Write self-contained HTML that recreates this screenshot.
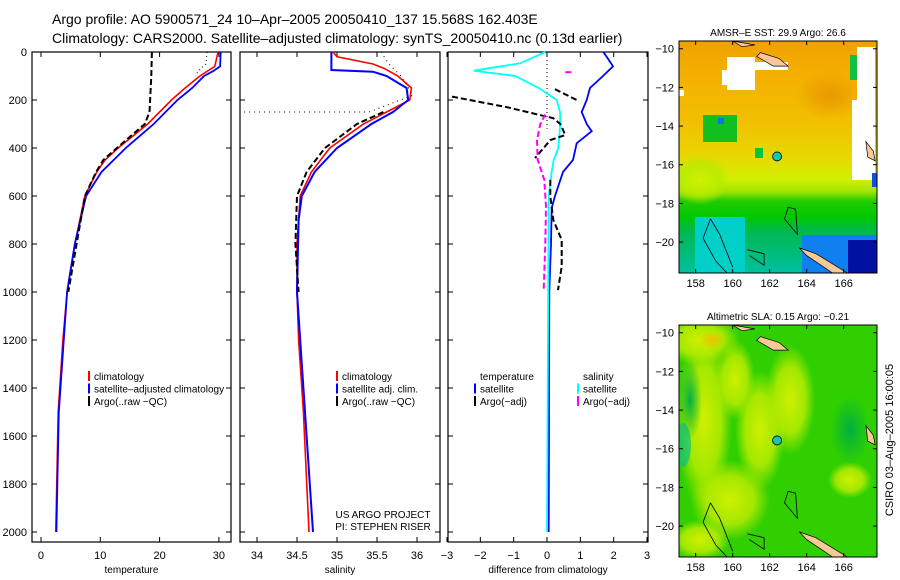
<!DOCTYPE html>
<html><head><meta charset="utf-8">
<style>
body{margin:0;background:#fff;}
svg{display:block;font-family:"Liberation Sans",sans-serif;}
</style></head>
<body>
<svg id="c" width="900" height="580" viewBox="0 0 900 580">
<text x="52" y="24" font-size="14">Argo profile: AO 5900571_24 10–Apr–2005 20050410_137 15.568S 162.403E</text>
<text x="52" y="43" font-size="14">Climatology: CARS2000. Satellite–adjusted climatology: synTS_20050410.nc (0.13d earlier)</text>
<defs>
<linearGradient id="sstg" x1="0" y1="0" x2="0" y2="1">
<stop offset="0" stop-color="#f0a000"/><stop offset="0.15" stop-color="#f4b000"/><stop offset="0.35" stop-color="#f2c000"/><stop offset="0.5" stop-color="#e8d800"/><stop offset="0.6" stop-color="#d0f000"/><stop offset="0.65" stop-color="#a0e400"/><stop offset="0.69" stop-color="#20cc00"/><stop offset="0.76" stop-color="#00c800"/><stop offset="0.82" stop-color="#00b850"/><stop offset="1" stop-color="#00c0a0"/>
</linearGradient>
<radialGradient id="sy1" cx="0.5" cy="0.5" r="0.5"><stop offset="0" stop-color="#d0f000"/><stop offset="0.6" stop-color="#b8ec00" stop-opacity="0.85"/><stop offset="1" stop-color="#b0e800" stop-opacity="0"/></radialGradient>
<radialGradient id="sy2" cx="0.5" cy="0.5" r="0.5"><stop offset="0" stop-color="#f0c000"/><stop offset="1" stop-color="#f0c000" stop-opacity="0"/></radialGradient>
<radialGradient id="sy3" cx="0.5" cy="0.5" r="0.5"><stop offset="0" stop-color="#e89800"/><stop offset="1" stop-color="#e89800" stop-opacity="0"/></radialGradient>
<radialGradient id="sg" cx="0.5" cy="0.5" r="0.5"><stop offset="0" stop-color="#00b040"/><stop offset="1" stop-color="#00b040" stop-opacity="0"/></radialGradient>
<clipPath id="clip-sst"><rect x="679" y="41" width="198" height="232"/></clipPath>
<clipPath id="clip-sla"><rect x="679" y="325" width="198" height="232"/></clipPath>
</defs>
<g id="maps"></g>
<g id="panels"></g>
<text transform="translate(893,440) rotate(-90)" font-size="11" text-anchor="middle">CSIRO 03–Aug–2005 16:00:05</text>
</svg>
<script>
// ---- data (depth m, value) ----
const tempClim=[[0,29.85],[60,29.3],[100,26.8],[150,24.3],[200,22],[300,18],[400,13],[450,10.8],[500,9.4],[600,7.4],[800,5.7],[1000,4.4],[1200,3.7],[1500,2.9],[2000,2.5]];
const tempSat=[[0,30.3],[60,30.2],[80,29],[100,27.5],[150,25.5],[200,23],[300,19],[400,14.3],[500,10.2],[600,7.6],[800,5.7],[1000,4.4],[1500,3.0],[2000,2.6]];
const tempArgo=[[0,18.7],[100,18.6],[250,18.3],[300,17.5],[400,12.8],[450,10.5],[500,9.3],[600,7.4],[800,6.0],[1000,4.6]];
const tempRaw=[[0,28.0],[50,27.8],[80,26.5],[100,26]];
const salClim=[[0,34.95],[20,35.0],[50,35.45],[70,35.6],[100,35.76],[150,35.93],[200,35.91],[250,35.62],[300,35.33],[400,34.91],[500,34.68],[600,34.54],[800,34.5],[1000,34.5],[1200,34.52],[1500,34.58],[2000,34.65]];
const salSat=[[0,34.93],[75,34.93],[82,35.45],[100,35.62],[150,35.87],[200,35.89],[250,35.7],[300,35.43],[400,35.0],[500,34.72],[600,34.56],[700,34.52],[1000,34.5],[1500,34.6],[2000,34.7]];
const salArgo=[[250,35.58],[300,35.25],[400,34.85],[500,34.62],[600,34.5],[800,34.48],[1000,34.52]];
const salRaw=[[0,35.55],[50,35.65],[100,35.8],[180,35.95],[250,35.4],[250,33.8]];
const dTempSat=[[0,1.69],[20,1.79],[60,1.98],[100,1.68],[150,1.29],[200,1.19],[250,1.04],[300,1.19],[330,1.34],[380,0.89],[450,0.78],[500,0.48],[600,0.24],[650,0.14],[800,0.12],[1000,0.07],[2000,0.05]];
const dSalSat=[[0,-0.05],[47,-0.8],[78,-2.2],[100,-0.95],[150,-0.25],[200,0.29],[250,0.39],[300,0.4],[400,0.34],[450,0.2],[500,0.14],[600,0.05],[2000,0.0]];
const dTempArgoA=[[155,0.24],[200,0.89]];
const dTempArgoB=[[186,-2.85],[230,-1.2],[276,0.19],[300,0.4],[346,0.55],[367,0.1],[442,-0.36]];
const dTempArgoC=[[533,0.1],[600,0.1],[700,0.19],[783,0.44],[894,0.44],[992,0.33]];
const dSalArgoA=[[84,0.55],[84,0.75]];
const dSalArgoB=[[260,-0.05],[300,-0.2],[367,-0.3],[450,-0.28],[533,-0.08],[644,-0.03],[800,-0.05],[990,-0.1]];
const depthTicks=[0,200,400,600,800,1000,1200,1400,1600,1800,2000];
const tempTicks=[0,10,20,30];
const salTicks=[34,34.5,35,35.5,36];
const diffTicks=[-3,-2,-1,0,1,2,3];
const lonTicks=[158,160,162,164,166];
const latTicks=[-10,-12,-14,-16,-18,-20];

const NS="http://www.w3.org/2000/svg";
function mk(tag,attrs,parent){const e=document.createElementNS(NS,tag);for(const k in attrs)e.setAttribute(k,attrs[k]);parent.appendChild(e);return e;}
const P=document.getElementById('panels');
const yD=d=>52+d*0.24;
const panels=[
 {name:'temperature',x0:32,x1:231,v0:-1.5175,v1:32.04,ticks:tempTicks,label:'temperature'},
 {name:'salinity',x0:240,x1:440,v0:33.7875,v1:36.2875,ticks:salTicks,label:'salinity'},
 {name:'difference',x0:448,x1:648,v0:-2.97,v1:3.03,ticks:diffTicks,label:'difference from climatology'}
];
panels.forEach(p=>{p.sx=v=>p.x0+(v-p.v0)/(p.v1-p.v0)*(p.x1-p.x0);});
function line(p,data,color,w,dash,name){
 const d=data.map((q,i)=>(i?'L':'M')+p.sx(q[1]).toFixed(1)+' '+yD(q[0]).toFixed(1)).join(' ');
 const e=mk('path',{d:d,fill:'none',stroke:color,'stroke-width':w},P);
 if(dash)e.setAttribute('stroke-dasharray',dash);
 
 
}
panels.forEach((p,i)=>{
 const r=mk('rect',{x:p.x0,y:52,width:p.x1-p.x0,height:490,fill:'#fff',stroke:'#000','stroke-width':1.2},P);
 
 
 p.ticks.forEach(t=>{
  const x=p.sx(t);
  mk('line',{x1:x,y1:52,x2:x,y2:57,stroke:'#000'},P);
  mk('line',{x1:x,y1:542,x2:x,y2:537,stroke:'#000'},P);
  const tx=mk('text',{x:x,y:559,'font-size':11,'text-anchor':'middle'},P);
  tx.textContent=t<0?'−'+(-t):String(t);
  
  
 });
 depthTicks.forEach(dv=>{
  const y=yD(dv);
  mk('line',{x1:p.x0,y1:y,x2:p.x0+5,y2:y,stroke:'#000'},P);
  mk('line',{x1:p.x1,y1:y,x2:p.x1-5,y2:y,stroke:'#000'},P);
  if(i===0){const t=mk('text',{x:27,y:y+4,'font-size':11,'text-anchor':'end'},P);t.textContent=dv;
   
   }
 });
 const lb=mk('text',{x:(p.x0+p.x1)/2,y:573,'font-size':10,'text-anchor':'middle'},P);
 lb.textContent=p.label;
 
 
});
const [pT,pS,pD]=panels;
line(pT,tempClim,'#f00',1.6,null,'temp-climatology-line');
line(pT,tempSat,'#00f',1.8,null,'temp-satellite-line');
line(pT,tempArgo,'#000',2,'6 3','temp-argo-line');
line(pT,tempRaw,'#000',1,'1 3','temp-argo-raw-line');
line(pS,salClim,'#f00',1.6,null,'sal-climatology-line');
line(pS,salSat,'#00f',2,null,'sal-satellite-line');
line(pS,salArgo,'#000',2,'6 3','sal-argo-line');
line(pS,salRaw,'#000',1,'1 4','sal-argo-raw-line');
line(pD,[[0,0],[320,0]],'#000',1,'1 3','zero-line');
line(pD,dTempSat,'#00f',1.8,null,'diff-temp-satellite-line');
line(pD,dSalSat,'#0ff',1.8,null,'diff-sal-satellite-line');
line(pD,dTempArgoA,'#000',2,'6 3','diff-temp-argo-line-a');
line(pD,dTempArgoB,'#000',2,'6 3','diff-temp-argo-line-b');
line(pD,dTempArgoC,'#000',2,'6 3','diff-temp-argo-line-c');
line(pD,dSalArgoA,'#f0f',2,'6 3','diff-sal-argo-line-a');
line(pD,dSalArgoB,'#f0f',2,'6 3','diff-sal-argo-line-b');

function legend(x,y,items,name){
 items.forEach((it,k)=>{
  const yy=y+k*12.5;
  if(it[1])mk('rect',{x:x,y:yy-9,width:2,height:10,fill:it[1]},P);
  const t=mk('text',{x:x+6,y:yy,'font-size':10},P);t.textContent=it[0];
  
  
 });
}
legend(88,380,[['climatology','#f00'],['satellite–adjusted climatology','#00f'],['Argo(..raw −QC)','#000']],'temp-legend');
legend(336,380,[['climatology','#f00'],['satellite adj. clim.','#00f'],['Argo(..raw −QC)','#000']],'sal-legend');
legend(474,380,[['temperature',null],['satellite','#00f'],['Argo(−adj)','#000']],'diff-temp-legend');
legend(577,380,[['salinity',null],['satellite','#0ff'],['Argo(−adj)','#f0f']],'diff-sal-legend');
const c1=mk('text',{x:383,y:518,'font-size':10,'text-anchor':'middle'},P);c1.textContent='US ARGO PROJECT';


const c2=mk('text',{x:383,y:530,'font-size':10,'text-anchor':'middle'},P);c2.textContent='PI: STEPHEN RISER';



// ---- maps ----
const M=document.getElementById('maps');
function R(g,x,y,w,h,f){return mk('rect',{x:x,y:y,width:w,height:h,fill:f},g);}
function map(top,bot,title,kind){
 const x0=679,x1=877;
 const lonX=l=>x0+(l-157.1)/(167.8-157.1)*(x1-x0);
 const latY=l=>top+(-9.6-l)/(21.6-9.6)*(bot-top);
 const g=mk('g',{},M);
 
 
 const cg=mk('g',{'clip-path':'url(#clip-'+kind+')'},g);
 if(kind==='sst'){
  R(cg,x0,top,x1-x0,bot-top,'url(#sstg)');
  mk('ellipse',{cx:830,cy:95,rx:35,ry:25,fill:'url(#sy3)'},cg);
  mk('ellipse',{cx:700,cy:180,rx:30,ry:25,fill:'url(#sy1)'},cg);
  R(cg,695,217,50,56,'#00d0c8');
  R(cg,802,235,75,38,'#1080f0');
  R(cg,848,240,29,33,'#0010a0');
  R(cg,703,115,34,27,'#10c020');
  R(cg,718,118,6,6,'#1070f0');
  R(cg,755,148,8,10,'#10c040');
  R(cg,850,55,25,25,'#10c040');
  R(cg,727,57,28,33,'#fff');
  R(cg,755,62,33,8,'#fff');
  R(cg,722,70,8,15,'#fff');
  R(cg,857,47,18,60,'#fff');
  R(cg,852,100,23,80,'#fff');
  R(cg,679,90,5,6,'#fff');
  R(cg,872,173,5,14,'#1050e0');
 } else {
  R(cg,x0,top,x1-x0,bot-top,'#30d000');
  [[704,420,28,90],[700,340,40,25],[760,430,25,60],[790,400,25,55],[735,380,20,40],[730,500,40,40],[850,480,22,18],[700,540,30,20]].forEach(e=>mk('ellipse',{cx:e[0],cy:e[1],rx:e[2],ry:e[3],fill:'url(#sy1)'},cg));
  mk('ellipse',{cx:712,cy:340,rx:14,ry:9,fill:'url(#sy2)'},cg);
  mk('ellipse',{cx:683,cy:445,rx:8,ry:22,fill:'#10c080',opacity:0.7},cg);
  mk('ellipse',{cx:850,cy:430,rx:20,ry:35,fill:'url(#sg)'},cg);
  mk('ellipse',{cx:690,cy:400,rx:12,ry:40,fill:'url(#sg)'},cg);
 }
 // land
 mk('path',{d:`M${lonX(163.6)} ${latY(-20.3)} L${lonX(164.5)} ${latY(-20.6)} L${lonX(166.2)} ${latY(-21.6)} L${lonX(165.4)} ${latY(-21.6)} L${lonX(164)} ${latY(-20.7)} Z`,fill:'#f8c898',stroke:'#000','stroke-width':0.7},cg);
 mk('path',{d:`M${lonX(161.5)} ${latY(-10.2)} L${lonX(162.5)} ${latY(-10.5)} L${lonX(163)} ${latY(-10.9)} L${lonX(162.2)} ${latY(-10.9)} L${lonX(161.3)} ${latY(-10.4)} Z`,fill:'#f8c898',stroke:'#000','stroke-width':0.7},cg);
 mk('path',{d:`M${lonX(160)} ${latY(-9.6)} L${lonX(161.2)} ${latY(-9.8)} L${lonX(160.5)} ${latY(-9.9)} Z`,fill:'#f8c898',stroke:'#000','stroke-width':0.7},cg);
 mk('path',{d:`M${lonX(167.2)} ${latY(-14.8)} L${lonX(167.6)} ${latY(-15.3)} L${lonX(167.7)} ${latY(-15.8)} L${lonX(167.3)} ${latY(-15.6)} Z`,fill:'#f8c898',stroke:'#000','stroke-width':0.7},cg);
 mk('path',{d:`M${lonX(158.8)} ${latY(-18.8)} L${lonX(158.4)} ${latY(-19.8)} L${lonX(159.1)} ${latY(-21)} L${lonX(159.7)} ${latY(-21.6)} M${lonX(158.8)} ${latY(-18.8)} L${lonX(159.3)} ${latY(-19.6)} L${lonX(160)} ${latY(-21.3)} M${lonX(163)} ${latY(-18.2)} L${lonX(162.8)} ${latY(-18.8)} L${lonX(163.5)} ${latY(-19.6)} L${lonX(163.4)} ${latY(-18.3)} Z M${lonX(160.8)} ${latY(-20.4)} L${lonX(161.7)} ${latY(-20.6)} L${lonX(161.7)} ${latY(-21.2)} L${lonX(160.9)} ${latY(-20.7)}`,fill:'none',stroke:'#000','stroke-width':0.8},cg);
 const dot=mk('circle',{cx:lonX(162.4),cy:latY(-15.57),r:4.5,fill:'#10c8b0',stroke:'#000','stroke-width':0.8},g);
 
 
 mk('rect',{x:x0,y:top,width:x1-x0,height:bot-top,fill:'none',stroke:'#000','stroke-width':1},g);
 lonTicks.forEach(l=>{const x=lonX(l);
  mk('line',{x1:x,y1:top,x2:x,y2:top+4,stroke:'#000'},g);
  mk('line',{x1:x,y1:bot,x2:x,y2:bot-4,stroke:'#000'},g);
  const t=mk('text',{x:x,y:bot+14,'font-size':11,'text-anchor':'middle'},g);t.textContent=l;
  
  });
 latTicks.forEach(l=>{const y=latY(l);
  mk('line',{x1:x0,y1:y,x2:x0+4,y2:y,stroke:'#000'},g);
  mk('line',{x1:x1,y1:y,x2:x1-4,y2:y,stroke:'#000'},g);
  const t=mk('text',{x:674,y:y+4,'font-size':11,'text-anchor':'end'},g);t.textContent='−'+(-l);
  
  });
 const tt=mk('text',{x:778,y:top-5,'font-size':10,'text-anchor':'middle'},g);tt.textContent=title;
 
 
}
map(41,273,'AMSR–E SST: 29.9 Argo: 26.6','sst');
map(325,557,'Altimetric SLA: 0.15 Argo: −0.21','sla');
</script>
</body></html>
